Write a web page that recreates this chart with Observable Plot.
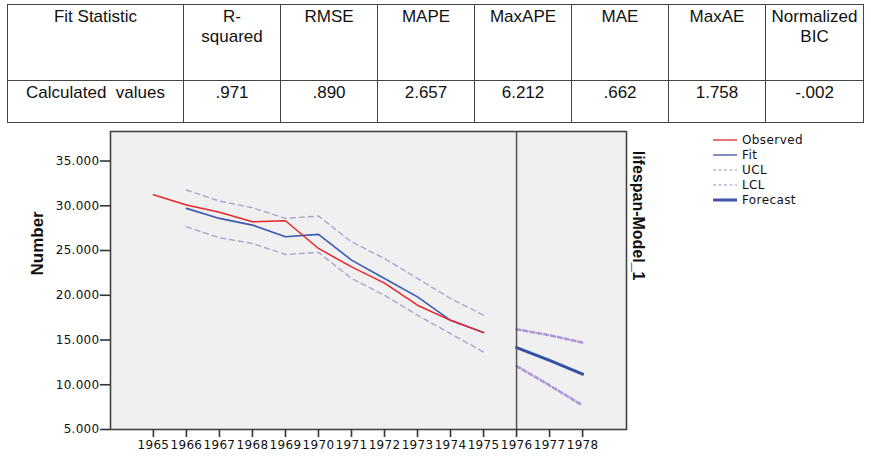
<!DOCTYPE html>
<html>
<head>
<meta charset="utf-8">
<script src="https://cdn.jsdelivr.net/npm/d3@7"></script>
<script src="https://cdn.jsdelivr.net/npm/@observablehq/plot@0.6"></script>
<style>
  html, body { margin: 0; padding: 0; background: #fff; }
  #page { position: relative; width: 871px; height: 460px; overflow: hidden; }
  table.fit {
    position: absolute; left: 7px; top: 4px;
    border-collapse: collapse; table-layout: fixed;
    font-family: "Liberation Sans", Arial, sans-serif; font-size: 17px; color: #111;
  }
  table.fit td {
    border: 1px solid #444; text-align: center; vertical-align: top;
    padding: 2px 2px 0 2px; line-height: 20px; overflow: hidden;
  }
  table.fit tr.head td { height: 73px; }
  table.fit tr.vals td { height: 39px; }
  #chart { position: absolute; left: 0; top: 125px; }
  #chart svg g[aria-label="x-axis tick label"],
  #chart svg g[aria-label="y-axis tick label"] {
    font-family: "DejaVu Sans", sans-serif !important;
    font-size: 12px !important;
    letter-spacing: 0.3px;
    fill: #111;
  }
  #legend {
    position: absolute; left: 713px; top: 133px;
    font-family: "DejaVu Sans", sans-serif; font-size: 12px; color: #111; letter-spacing: 0.4px;
  }
  #legend .row { height: 14.8px; display: flex; align-items: center; }
  #legend svg { margin-right: 5px; }
</style>
</head>
<body>
<div id="page">
  <table class="fit">
    <colgroup>
      <col style="width:176px">
      <col style="width:97px"><col style="width:97px"><col style="width:97px">
      <col style="width:97px"><col style="width:97px"><col style="width:97px"><col style="width:98px">
    </colgroup>
    <tbody id="tbody"></tbody>
  </table>
  <div id="chart"></div>
  <div id="legend"></div>
</div>
<script>
// Fit statistics table
const statNames = ["Fit Statistic", "R-<br>squared", "RMSE", "MAPE", "MaxAPE", "MAE", "MaxAE", "Normalized<br>BIC"];
const statValues = ["Calculated&nbsp;&nbsp;values", ".971", ".890", "2.657", "6.212", ".662", "1.758", "-.002"];

// Observed series and model fit (1965–1975)
const obsYears = [1965, 1966, 1967, 1968, 1969, 1970, 1971, 1972, 1973, 1974, 1975];
const observed = [31.24, 30.08, 29.27, 28.21, 28.33, 25.23, 23.18, 21.35, 18.89, 17.2, 15.83];
const fitYears = [1966, 1967, 1968, 1969, 1970, 1971, 1972, 1973, 1974, 1975];
const fit = [29.71, 28.59, 27.84, 26.54, 26.8, 23.93, 21.88, 19.82, 17.2, 15.83];
const ucl = [31.76, 30.53, 29.78, 28.59, 28.85, 25.97, 24.11, 21.88, 19.64, 17.77];
const lcl = [27.65, 26.42, 25.79, 24.56, 24.79, 21.88, 20.0, 17.77, 15.72, 13.66];

// Forecast period (1976–1978)
const fcYears = [1976, 1977, 1978];
const forecast = [14.15, 12.73, 11.19];
const fcUcl = [16.2, 15.53, 14.71];
const fcLcl = [12.09, 9.93, 7.69];

// Axis ticks
const xTicks = [1965, 1966, 1967, 1968, 1969, 1970, 1971, 1972, 1973, 1974, 1975, 1976, 1977, 1978];
const yTicks = [5, 10, 15, 20, 25, 30, 35];

const tbody = document.getElementById("tbody");
tbody.innerHTML =
  `<tr class="head">${statNames.map(s => `<td>${s}</td>`).join("")}</tr>` +
  `<tr class="vals">${statValues.map(s => `<td>${s}</td>`).join("")}</tr>`;

const pts = (xs, ys) => xs.map((x, i) => ({x, y: ys[i]}));

const colors = {
  observed: "#e8262b",
  fit: "#3d59b2",
  cl: "#a9a5cb",
  forecast: "#3451a6",
  fcl: "#ad98d8"
};

const chart = Plot.plot({
  width: 871,
  height: 335,
  marginLeft: 110,
  marginRight: 245,
  marginTop: 6,
  marginBottom: 31,
  style: {fontFamily: "DejaVu Sans, sans-serif", fontSize: "12px", background: "transparent", overflow: "visible", color: "#111"},
  x: {type: "linear", domain: [1963.7, 1979.33]},
  y: {type: "linear", domain: [5, 38.3]},
  marks: [
    Plot.frame({fill: "#f0f0f0", stroke: null}),
    Plot.line(pts(fitYears, ucl), {x: "x", y: "y", stroke: colors.cl, strokeWidth: 1.4, strokeDasharray: "5,4"}),
    Plot.line(pts(fitYears, lcl), {x: "x", y: "y", stroke: colors.cl, strokeWidth: 1.4, strokeDasharray: "5,4"}),
    Plot.line(pts(fitYears, fit), {x: "x", y: "y", stroke: colors.fit, strokeWidth: 1.6}),
    Plot.line(pts(obsYears, observed), {x: "x", y: "y", stroke: colors.observed, strokeWidth: 1.5}),
    Plot.line(pts(fcYears, fcUcl), {x: "x", y: "y", stroke: colors.fcl, strokeWidth: 2.6, strokeDasharray: "4,3"}),
    Plot.line(pts(fcYears, fcLcl), {x: "x", y: "y", stroke: colors.fcl, strokeWidth: 2.6, strokeDasharray: "4,3"}),
    Plot.line(pts(fcYears, forecast), {x: "x", y: "y", stroke: colors.forecast, strokeWidth: 3}),
    Plot.ruleX([1976], {stroke: "#555", strokeWidth: 1.5}),
    Plot.frame({stroke: "#444", strokeWidth: 1.6}),
    Plot.axisY({ticks: yTicks, tickSize: 10, tickPadding: 1, tickFormat: d3.format(".3f"), label: null, stroke: "#333", strokeWidth: 1.6}),
    Plot.axisX({ticks: xTicks, tickSize: 8, tickPadding: 3, tickFormat: d => String(d), label: null, stroke: "#333", strokeWidth: 1.6}),
    Plot.text(["Number"], {frameAnchor: "left", dx: -73, dy: -5, rotate: -90, fontFamily: "Liberation Sans, Arial, sans-serif", fontWeight: "bold", fontSize: 17, fill: "#111"}),
    Plot.text(["lifespan-Model_1"], {frameAnchor: "right", dx: 12, rotate: 90, fontFamily: "Liberation Sans, Arial, sans-serif", fontWeight: "bold", fontSize: 16, fill: "#111"})
  ]
});
document.getElementById("chart").appendChild(chart);

// Series legend
const legendItems = [
  {label: "Observed", stroke: "#e8404a", width: 1.5, dash: null},
  {label: "Fit", stroke: "#7383c6", width: 1.8, dash: null},
  {label: "UCL", stroke: "#b9b5d6", width: 1.3, dash: "3,2.5"},
  {label: "LCL", stroke: "#b9b5d6", width: 1.3, dash: "3,2.5"},
  {label: "Forecast", stroke: "#3f56a8", width: 3, dash: null}
];
document.getElementById("legend").innerHTML = legendItems.map(d =>
  `<div class="row"><svg width="24" height="10"><line x1="0" x2="24" y1="5" y2="5" stroke="${d.stroke}" stroke-width="${d.width}"${d.dash ? ` stroke-dasharray="${d.dash}"` : ""}/></svg><span>${d.label}</span></div>`
).join("");
</script>
</body>
</html>
